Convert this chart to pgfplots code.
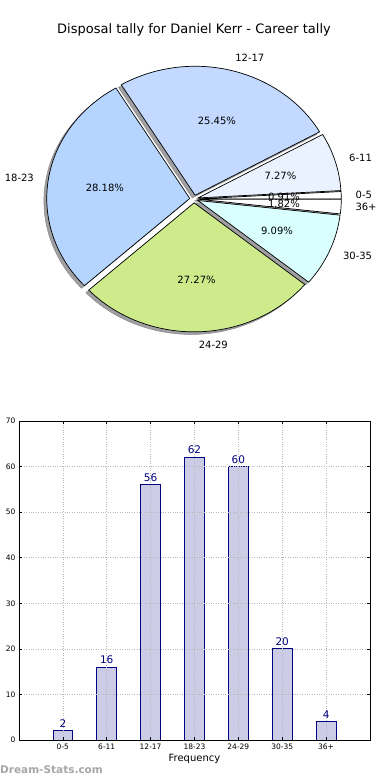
\documentclass[border=0pt]{standalone}
\usepackage{pgfplots}
\pgfplotsset{compat=1.18}
\usepackage{fontspec}
\setmainfont{DejaVu Sans}
\definecolor{c05}{RGB}{255,255,255}
\definecolor{c611}{RGB}{234,241,255}
\definecolor{c1217}{RGB}{195,217,255}
\definecolor{c1823}{RGB}{181,213,255}
\definecolor{c2429}{RGB}{205,235,139}
\definecolor{c3035}{RGB}{217,255,255}
\definecolor{c36}{RGB}{255,255,255}
\definecolor{barfill}{RGB}{204,204,230}
\definecolor{navy}{RGB}{0,0,128}
\definecolor{shad}{RGB}{160,160,162}
\begin{document}
\begin{tikzpicture}
\path[use as bounding box] (0,0) rectangle (390bp,780bp);
\node[font=\fontsize{13bp}{15bp}\selectfont] at (194bp,750bp) {Disposal tally for Daniel Kerr - Career tally};
% ---------- pie ----------
\begin{axis}[at={(194bp,581bp)}, anchor=center, x=143bp, y=129bp,
  xmin=-1.2, xmax=1.2, ymin=-1.2, ymax=1.2, hide axis, clip=false]
\addplot[draw=none] coordinates {(0,0)};
\pgfplotsextra{
  % shadows
  \foreach \v/\c/\l/\an [remember=\cb as \pc (initially 0)] in
    {2/c05/0-5/west,16/c611/6-11/west,56/c1217/12-17/west,62/c1823/18-23/east,60/c2429/24-29/west,20/c3035/30-35/west,4/c36/36+/west}{
    \pgfmathsetmacro\cb{\pc+\v}
    \pgfmathsetmacro\myA{\pc/220*360}
    \pgfmathsetmacro\myB{\cb/220*360}
    \pgfmathsetmacro\myM{(\myA+\myB)/2}
    \pgfmathsetmacro\ex{0.03*cos(\myM)-0.02}
    \pgfmathsetmacro\ey{0.03*sin(\myM)-0.02}
    \pgfmathsetmacro\sx{\ex+cos(\myA)}
    \pgfmathsetmacro\sy{\ey+sin(\myA)}
    \filldraw[fill=shad, draw=shad!85!black, line width=0.5bp]
      (axis cs:\ex,\ey) -- (axis cs:\sx,\sy) arc[start angle=\myA, end angle=\myB, x radius=143bp, y radius=129bp] -- cycle;
  }
  % wedges
  \foreach \v/\c/\l/\an [remember=\cb as \pc (initially 0)] in
    {2/c05/0-5/west,16/c611/6-11/west,56/c1217/12-17/west,62/c1823/18-23/east,60/c2429/24-29/west,20/c3035/30-35/west,4/c36/36+/west}{
    \pgfmathsetmacro\cb{\pc+\v}
    \pgfmathsetmacro\myA{\pc/220*360}
    \pgfmathsetmacro\myB{\cb/220*360}
    \pgfmathsetmacro\myM{(\myA+\myB)/2}
    \pgfmathsetmacro\ex{0.03*cos(\myM)}
    \pgfmathsetmacro\ey{0.03*sin(\myM)}
    \pgfmathsetmacro\sx{\ex+cos(\myA)}
    \pgfmathsetmacro\sy{\ey+sin(\myA)}
    \filldraw[fill=\c, draw=black, line width=0.7bp]
      (axis cs:\ex,\ey) -- (axis cs:\sx,\sy) arc[start angle=\myA, end angle=\myB, x radius=143bp, y radius=129bp] -- cycle;
  }
  % labels
  \foreach \v/\c/\l/\an [remember=\cb as \pc (initially 0)] in
    {2/c05/0-5/west,16/c611/6-11/west,56/c1217/12-17/west,62/c1823/18-23/east,60/c2429/24-29/west,20/c3035/30-35/west,4/c36/36+/west}{
    \pgfmathsetmacro\cb{\pc+\v}
    \pgfmathsetmacro\myM{(\pc+\cb)/440*360}
    \pgfmathsetmacro\lx{1.13*cos(\myM)}
    \pgfmathsetmacro\ly{1.13*sin(\myM)}
    \pgfmathsetmacro\px{0.63*cos(\myM)}
    \pgfmathsetmacro\py{0.63*sin(\myM)}
    \pgfmathsetmacro\pct{\v/220*100}
    \node[anchor=\an, inner sep=0pt, font=\fontsize{10bp}{12bp}\selectfont] at (axis cs:\lx,\ly) {\l};
    \node[inner sep=0pt, font=\fontsize{10bp}{12bp}\selectfont] at (axis cs:\px,\py) {\pgfmathprintnumber[fixed,precision=2,fixed zerofill,assume math mode=true]{\pct}\%};
  }
}
\end{axis}
% ---------- bars ----------
\begin{axis}[at={(19bp,40bp)}, anchor=south west, scale only axis,
  width=351bp, height=319bp,
  xmin=-1, xmax=7, ymin=0, ymax=70,
  xtick={0,1,2,3,4,5,6},
  xticklabels={0-5,6-11,12-17,18-23,24-29,30-35,36+},
  ytick={0,10,20,30,40,50,60,70},
  tick align=inside, major tick length=3bp,
  tick style={black, line width=0.5bp},
  tick label style={font=\fontsize{7.5bp}{9bp}\selectfont},
  /pgf/number format/assume math mode=true,
  xlabel={Frequency},
  xlabel style={font=\fontsize{10bp}{12bp}\selectfont, yshift=2bp},
  grid=major,
  major grid style={dash pattern=on 0.8bp off 1.6bp, gray!55, line width=0.6bp},
  axis line style={line width=0.9bp},
  axis on top]
\addplot[ybar, bar width=0.45, fill=barfill, draw=navy, line width=0.8bp,
  nodes near coords,
  nodes near coords style={font=\fontsize{10.5bp}{12bp}\selectfont, text=navy, inner sep=0pt, anchor=south, yshift=3bp}]
  coordinates {(0,2) (1,16) (2,56) (3,62) (4,60) (5,20) (6,4)};
\end{axis}
\node[anchor=west, inner sep=0pt, text=gray!70, font=\bfseries\fontsize{10.5bp}{12bp}\selectfont] at (0bp,10bp) {Dream-Stats.com};
\end{tikzpicture}
\end{document}
